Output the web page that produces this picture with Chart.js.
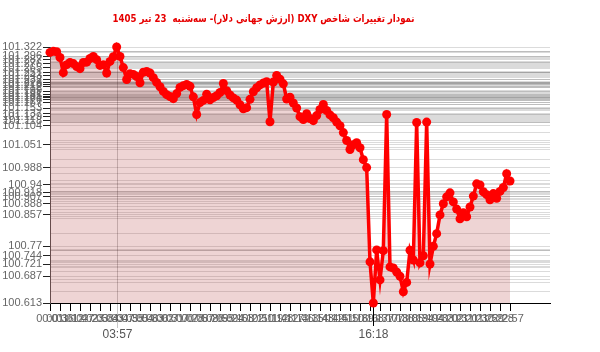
<!DOCTYPE html>
<html>
<head>
<meta charset="utf-8">
<script src="https://cdn.jsdelivr.net/npm/chart.js@4.4.1/dist/chart.umd.min.js"></script>
<style>
  html, body { margin: 0; padding: 0; background: #fff; }
  #wrap { position: relative; width: 600px; height: 352px; }
  #chart { position: absolute; left: 0; top: 0; }
  #title {
    position: absolute; top: 8px; left: 0; width: 528px;
    text-align: center; white-space: nowrap;
  }
  #title span {
    display: inline-block; direction: rtl;
    font: bold 11px "DejaVu Sans", sans-serif; color: #e60000;
    transform: scaleX(0.78); transform-origin: center;
  }
</style>
</head>
<body>
<div id="wrap">
  <canvas id="chart" width="600" height="352"></canvas>
  <div id="title"><span>نمودار تغییرات شاخص DXY (ارزش جهانی دلار)- سه‌شنبه&nbsp; 23 تیر 1405</span></div>
</div>
<script>
// time of each reading
const times = [
  "00:01","00:13","00:25","00:36","00:48","01:00","01:12","01:24","01:35","01:47",
  "01:59","02:11","02:23","02:34","02:46","02:58","03:10","03:22","03:33","03:45",
  "03:57","04:07","04:16","04:26","04:35","04:45","04:55","05:04","05:14","05:23",
  "05:33","05:43","05:52","06:02","06:12","06:21","06:31","06:40","06:50","07:00",
  "07:09","07:19","07:28","07:38","07:48","07:57","08:07","08:17","08:26","08:36",
  "08:45","08:55","09:05","09:14","09:24","09:33","09:43","09:53","10:02","10:12",
  "10:22","10:31","10:41","10:50","11:00","11:10","11:19","11:29","11:38","11:48",
  "11:58","12:07","12:17","12:27","12:36","12:46","12:55","13:05","13:15","13:24",
  "13:34","13:43","13:53","14:03","14:12","14:22","14:32","14:41","14:51","15:00",
  "15:10","15:20","15:29","15:39","15:48","15:58","16:08","16:18","16:28","16:37",
  "16:47","16:57","17:07","17:16","17:26","17:36","17:46","17:55","18:05","18:15",
  "18:25","18:34","18:44","18:54","19:04","19:13","19:23","19:33","19:43","19:52",
  "20:02","20:12","20:22","20:31","20:41","20:51","21:01","21:10","21:20","21:30",
  "21:40","21:49","21:59","22:09","22:19","22:28","22:38","22:48","22:57"
];

// DXY index value
const dxy = [
  101.307,101.310,101.309,101.293,101.251,101.273,101.279,101.276,101.268,101.262,
  101.279,101.280,101.290,101.296,101.287,101.271,101.273,101.250,101.282,101.295,
  101.322,101.296,101.265,101.232,101.248,101.246,101.240,101.223,101.252,101.254,
  101.250,101.237,101.224,101.212,101.199,101.190,101.185,101.179,101.193,101.210,
  101.215,101.218,101.213,101.184,101.135,101.168,101.174,101.191,101.176,101.182,
  101.187,101.196,101.221,101.201,101.189,101.181,101.175,101.162,101.151,101.154,
  101.177,101.198,101.209,101.217,101.222,101.226,101.115,101.225,101.243,101.233,
  101.220,101.178,101.183,101.167,101.153,101.129,101.121,101.137,101.124,101.118,
  101.132,101.149,101.163,101.146,101.134,101.126,101.114,101.104,101.085,101.063,
  101.038,101.051,101.057,101.043,101.010,100.988,100.727,100.613,100.760,100.677,
  100.758,101.135,100.713,100.710,100.699,100.687,100.644,100.670,100.759,100.732,
  101.113,100.724,100.744,101.114,100.721,100.770,100.805,100.857,100.888,100.907,
  100.918,100.893,100.873,100.846,100.863,100.852,100.879,100.909,100.943,100.940,
  100.921,100.913,100.899,100.916,100.903,100.922,100.933,100.971,100.951
];

const N = times.length;
const emptySlots = 12; // axis runs on past the last reading
const labels = times.concat(new Array(emptySlots).fill(''));

const yMin = Math.min(...dxy);
const yMax = Math.max(...dxy);
const maxIdx = dxy.indexOf(yMax);
const minIdx = dxy.indexOf(yMin);

// one grid line per distinct value, only every 4th one gets a label
const yValues = [...new Set(dxy)].sort((a, b) => a - b);
const yLabelled = new Set(yValues.filter((v, i) => i % 4 === 0 || v === yMax));

const markers = {
  id: 'markers',
  beforeDatasetsDraw(chart) {
    const { ctx, chartArea, scales: { x } } = chart;
    ctx.save();
    ctx.lineWidth = 1;

    let px = Math.round(x.getPixelForValue(maxIdx)) + 0.5;
    ctx.strokeStyle = 'rgba(0,0,0,0.22)';
    ctx.beginPath();
    ctx.moveTo(px, chartArea.top);
    ctx.lineTo(px, 328);
    ctx.stroke();

    let pn = Math.round(x.getPixelForValue(minIdx)) + 0.5;
    ctx.strokeStyle = '#000';
    ctx.beginPath();
    ctx.moveTo(pn, chartArea.bottom);
    ctx.lineTo(pn, 326);
    ctx.stroke();

    ctx.font = '12px "Liberation Sans", Arial, sans-serif';
    ctx.fillStyle = '#555';
    ctx.textAlign = 'center';
    ctx.textBaseline = 'top';
    ctx.fillText(times[maxIdx], px, 329);
    ctx.fillText(times[minIdx], pn, 329);
    ctx.restore();
  }
};

new Chart(document.getElementById('chart'), {
  type: 'line',
  data: {
    labels: labels,
    datasets: [{
      data: dxy,
      borderColor: '#ff0000',
      borderWidth: 3.5,
      pointRadius: 4.5,
      pointBackgroundColor: '#ff0000',
      pointBorderWidth: 0,
      pointHoverRadius: 4.5,
      tension: 0,
      fill: 'start',
      backgroundColor: 'rgba(170,40,40,0.2)',
      clip: false
    }]
  },
  options: {
    responsive: false,
    animation: false,
    layout: { padding: { top: 47, right: 50, left: 0, bottom: 0 } },
    plugins: {
      legend: { display: false },
      tooltip: { enabled: false },
      title: { display: false }
    },
    scales: {
      x: {
        type: 'category',
        afterFit(scale) { scale.height = 49; },
        border: { color: '#000' },
        grid: {
          drawOnChartArea: false,
          tickLength: 8,
          tickColor: (c) => (c.index < N && c.index % 3 === 0) ? '#000' : 'rgba(0,0,0,0)'
        },
        ticks: {
          autoSkip: false,
          maxRotation: 0,
          padding: 1,
          color: '#666',
          font: { family: '"Liberation Sans", Arial, sans-serif', size: 11 },
          callback: (v, i) => (i < N && i % 3 === 0) ? times[i] : ''
        }
      },
      y: {
        min: yMin,
        max: yMax,
        afterFit(scale) { scale.width = 50; },
        afterBuildTicks(scale) { scale.ticks = yValues.map(v => ({ value: v })); },
        border: { color: '#555' },
        grid: {
          color: 'rgba(0,0,0,0.14)',
          tickLength: 7,
          tickColor: (c) => (c.tick && yLabelled.has(c.tick.value)) ? '#222' : 'rgba(0,0,0,0)'
        },
        ticks: {
          autoSkip: false,
          padding: 1,
          color: '#666',
          font: { family: '"Liberation Sans", Arial, sans-serif', size: 11 },
          callback: (v) => yLabelled.has(v) ? String(v) : ''
        }
      }
    }
  },
  plugins: [markers]
});
</script>
</body>
</html>
